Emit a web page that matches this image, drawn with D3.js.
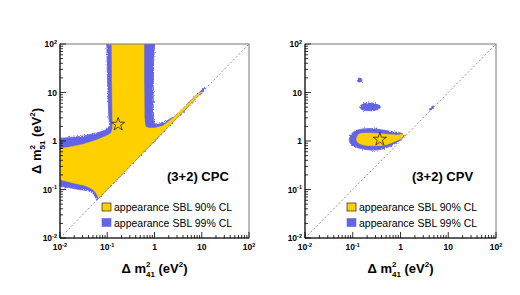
<!DOCTYPE html>
<html>
<head>
<meta charset="utf-8">
<script src="https://cdn.jsdelivr.net/npm/d3@7"></script>
<style>
  body { margin: 0; background: #fff; }
  svg { display: block; font-family: "Liberation Sans", Arial, sans-serif; }
</style>
</head>
<body>
<svg id="chart" width="520" height="295">
  <defs>
    <filter id="fuzz" x="-10%" y="-10%" width="120%" height="120%">
      <feTurbulence type="fractalNoise" baseFrequency="0.9" numOctaves="2" seed="3" result="n"/>
      <feDisplacementMap in="SourceGraphic" in2="n" scale="3" xChannelSelector="R" yChannelSelector="G"/>
    </filter>
  </defs>
</svg>
<script>
'use strict'

// axis ticks (decades), labels as [base, exponent]
const decades = [0.01, 0.1, 1, 10, 100]
const decadeLabels = [['10', '-2'], ['10', '-1'], ['1', ''], ['10', ''], ['10', '2']]

// contours, [dm41, dm51] in eV^2
const cpc99 = [[0.098, 100], [0.1, 30], [0.104, 8], [0.108, 3.2], [0.112, 2.1], [0.1, 1.75], [0.08, 1.6],
  [0.06, 1.47], [0.03, 1.26], [0.015, 1.17], [0.01, 1.14], [0.01, 0.115], [0.015, 0.11], [0.025, 0.1],
  [0.04, 0.094], [0.05, 0.085], [0.056, 0.07], [0.06, 0.06], [12, 12], [11, 12.2], [6, 7.0], [3, 3.5],
  [1.6, 2.4], [1.15, 2.2], [1.0, 2.3], [0.95, 2.8], [0.94, 10], [0.96, 40], [1.0, 100]]
const cpc90 = [[0.125, 100], [0.126, 20], [0.128, 5], [0.13, 2.6], [0.13, 1.8], [0.12, 1.45], [0.1, 1.3],
  [0.06, 1.05], [0.03, 0.85], [0.015, 0.74], [0.01, 0.7], [0.01, 0.16], [0.02, 0.135], [0.035, 0.12],
  [0.05, 0.1], [0.058, 0.085], [0.066, 0.066], [10, 10], [9, 10], [5, 5.8], [2.5, 3.0], [1.5, 2.05],
  [1.0, 1.85], [0.75, 1.85], [0.64, 2.0], [0.61, 3], [0.6, 20], [0.6, 100]]
const cpcBest = [0.17, 2.2]

const cpv99 = [
  [[0.085, 1.1], [0.1, 1.5], [0.15, 1.75], [0.25, 1.8], [0.4, 1.7], [0.7, 1.55], [1.05, 1.45], [1.2, 1.32],
    [1.0, 1.05], [0.6, 0.78], [0.35, 0.66], [0.2, 0.66], [0.12, 0.74], [0.09, 0.88]],
  [[0.14, 5], [0.16, 5.8], [0.22, 6.1], [0.32, 5.8], [0.38, 5.0], [0.32, 4.4], [0.22, 4.2], [0.16, 4.4]],
  [[0.125, 18], [0.13, 19.5], [0.15, 19.5], [0.155, 17], [0.13, 16.5]],
  [[4.0, 4.4], [4.6, 5.2], [5.0, 5.2], [4.4, 4.4]]
]
const cpv90 = [[0.12, 1.1], [0.135, 1.38], [0.2, 1.46], [0.35, 1.42], [0.6, 1.36], [0.9, 1.33], [1.12, 1.36],
  [1.1, 1.2], [0.8, 1.0], [0.5, 0.84], [0.3, 0.8], [0.18, 0.82], [0.13, 0.92]]
const cpvBest = [0.37, 1.08]

const legendLabels = ['appearance SBL 90% CL', 'appearance SBL 99% CL']
const yellow = '#ffd000'
const blue = '#6464e6'

const svg = d3.select('#chart')

const panels = [
  { left: 60, right: 249, tag: '(3+2) CPC', outer: [cpc99], inner: [cpc90], best: cpcBest, ytitle: true, smooth: false },
  { left: 305, right: 496, tag: '(3+2) CPV', outer: cpv99, inner: [cpv90], best: cpvBest, ytitle: false, smooth: true }
]
const plotTop = 44
const plotBottom = 238

panels.forEach(function (p) {
  const x = d3.scaleLog().domain([0.01, 100]).range([p.left, p.right])
  const y = d3.scaleLog().domain([0.01, 100]).range([plotBottom, plotTop])
  const g = svg.append('g')
  const line = d3.line().x(d => x(d[0])).y(d => y(d[1]))
    .curve(p.smooth ? d3.curveCatmullRomClosed.alpha(0.5) : d3.curveLinearClosed)

  const clipId = 'clip' + p.left
  g.append('clipPath').attr('id', clipId)
    .append('rect').attr('x', p.left).attr('y', plotTop).attr('width', p.right - p.left).attr('height', plotBottom - plotTop)

  const plot = g.append('g').attr('clip-path', `url(#${clipId})`)
  plot.append('g').attr('filter', 'url(#fuzz)')
    .selectAll('path').data(p.outer).enter().append('path')
    .attr('d', line).attr('fill', blue).attr('stroke', blue).attr('stroke-width', 0.8)
  plot.selectAll('.inner').data(p.inner).enter().append('path')
    .attr('d', line).attr('fill', yellow).attr('stroke', yellow).attr('stroke-width', 0.5)

  // y = x diagonal
  plot.append('line')
    .attr('x1', x(0.01)).attr('y1', y(0.01)).attr('x2', x(100)).attr('y2', y(100))
    .attr('stroke', '#777').attr('stroke-width', 0.8).attr('stroke-dasharray', '2,2')

  // best fit star
  plot.append('path')
    .attr('d', d3.symbol().type(d3.symbolStar).size(55)())
    .attr('transform', `translate(${x(p.best[0])},${y(p.best[1])})`)
    .attr('fill', 'none').attr('stroke', '#222').attr('stroke-width', 0.8)

  // frame
  g.append('rect').attr('x', p.left).attr('y', plotTop).attr('width', p.right - p.left).attr('height', plotBottom - plotTop)
    .attr('fill', 'none').attr('stroke', '#777').attr('stroke-width', 1)
  g.append('path').attr('d', `M${p.left},${plotTop}V${plotBottom}H${p.right}`)
    .attr('fill', 'none').attr('stroke', '#000').attr('stroke-width', 1)

  // ticks, pointing inward
  const minors = []
  decades.slice(0, -1).forEach(d => { for (let k = 2; k <= 9; k++) minors.push(d * k) })
  const ticks = decades.map(v => ({ v: v, len: 6 })).concat(minors.map(v => ({ v: v, len: 3 })))
  g.selectAll('.xt').data(ticks).enter().append('line')
    .attr('x1', d => x(d.v)).attr('x2', d => x(d.v))
    .attr('y1', plotBottom).attr('y2', d => plotBottom - d.len)
    .attr('stroke', '#000').attr('stroke-width', 0.8)
  g.selectAll('.yt').data(ticks).enter().append('line')
    .attr('y1', d => y(d.v)).attr('y2', d => y(d.v))
    .attr('x1', p.left).attr('x2', d => p.left + d.len)
    .attr('stroke', '#000').attr('stroke-width', 0.8)

  // tick labels
  const xl = g.selectAll('.xl').data(decades).enter().append('text')
    .attr('x', d => x(d)).attr('y', 250)
    .attr('text-anchor', 'middle').attr('font-size', 8.5).attr('font-weight', 'bold')
  xl.append('tspan').text((d, i) => decadeLabels[i][0])
  xl.append('tspan').attr('dy', -3.5).attr('font-size', 5.5).text((d, i) => decadeLabels[i][1])

  const yl = g.selectAll('.yl').data(decades).enter().append('text')
    .attr('x', p.left - 3).attr('y', d => y(d) + 3)
    .attr('text-anchor', 'end').attr('font-size', 8.5).attr('font-weight', 'bold')
  yl.append('tspan').text((d, i) => decadeLabels[i][0])
  yl.append('tspan').attr('dy', -3.5).attr('font-size', 5.5).text((d, i) => decadeLabels[i][1])

  // axis titles: superscript 2 stacked over the index subscript
  function massTitle (sel, sub) {
    sel.append('tspan').text('\u0394 m')
    sel.append('tspan').attr('dy', -6).attr('font-size', 8).text('2')
    sel.append('tspan').attr('dx', -4.4).attr('dy', 9.6).attr('font-size', 8).text(sub)
    sel.append('tspan').attr('dy', -3.6).text(' (eV')
    sel.append('tspan').attr('dy', -6).attr('font-size', 8).text('2')
    sel.append('tspan').attr('dy', 6).text(')')
  }
  const xt = g.append('text')
    .attr('x', (p.left + p.right) / 2).attr('y', 273)
    .attr('text-anchor', 'middle').attr('font-size', 13).attr('font-weight', 'bold')
  massTitle(xt, '41')
  if (p.ytitle) {
    const yt = g.append('text')
      .attr('transform', `translate(41,${(plotTop + plotBottom) / 2}) rotate(-90)`)
      .attr('text-anchor', 'middle').attr('font-size', 13).attr('font-weight', 'bold')
    massTitle(yt, '51')
  }

  // scenario tag
  g.append('text').attr('x', p.left + 107).attr('y', 181)
    .attr('font-size', 13).attr('font-weight', 'bold').text(p.tag)

  // legend
  const lg = g.selectAll('.lg').data(legendLabels).enter().append('g')
    .attr('transform', (d, i) => `translate(${p.left + 42},${203 + i * 15.5})`)
  lg.append('rect').attr('width', 9).attr('height', 8)
    .attr('fill', (d, i) => i === 0 ? yellow : blue)
    .attr('stroke', (d, i) => i === 0 ? '#000' : blue).attr('stroke-width', 0.6)
  lg.append('text').attr('x', 12).attr('y', 8).attr('font-size', 10.5).text(d => d)
})
</script>
</body>
</html>
